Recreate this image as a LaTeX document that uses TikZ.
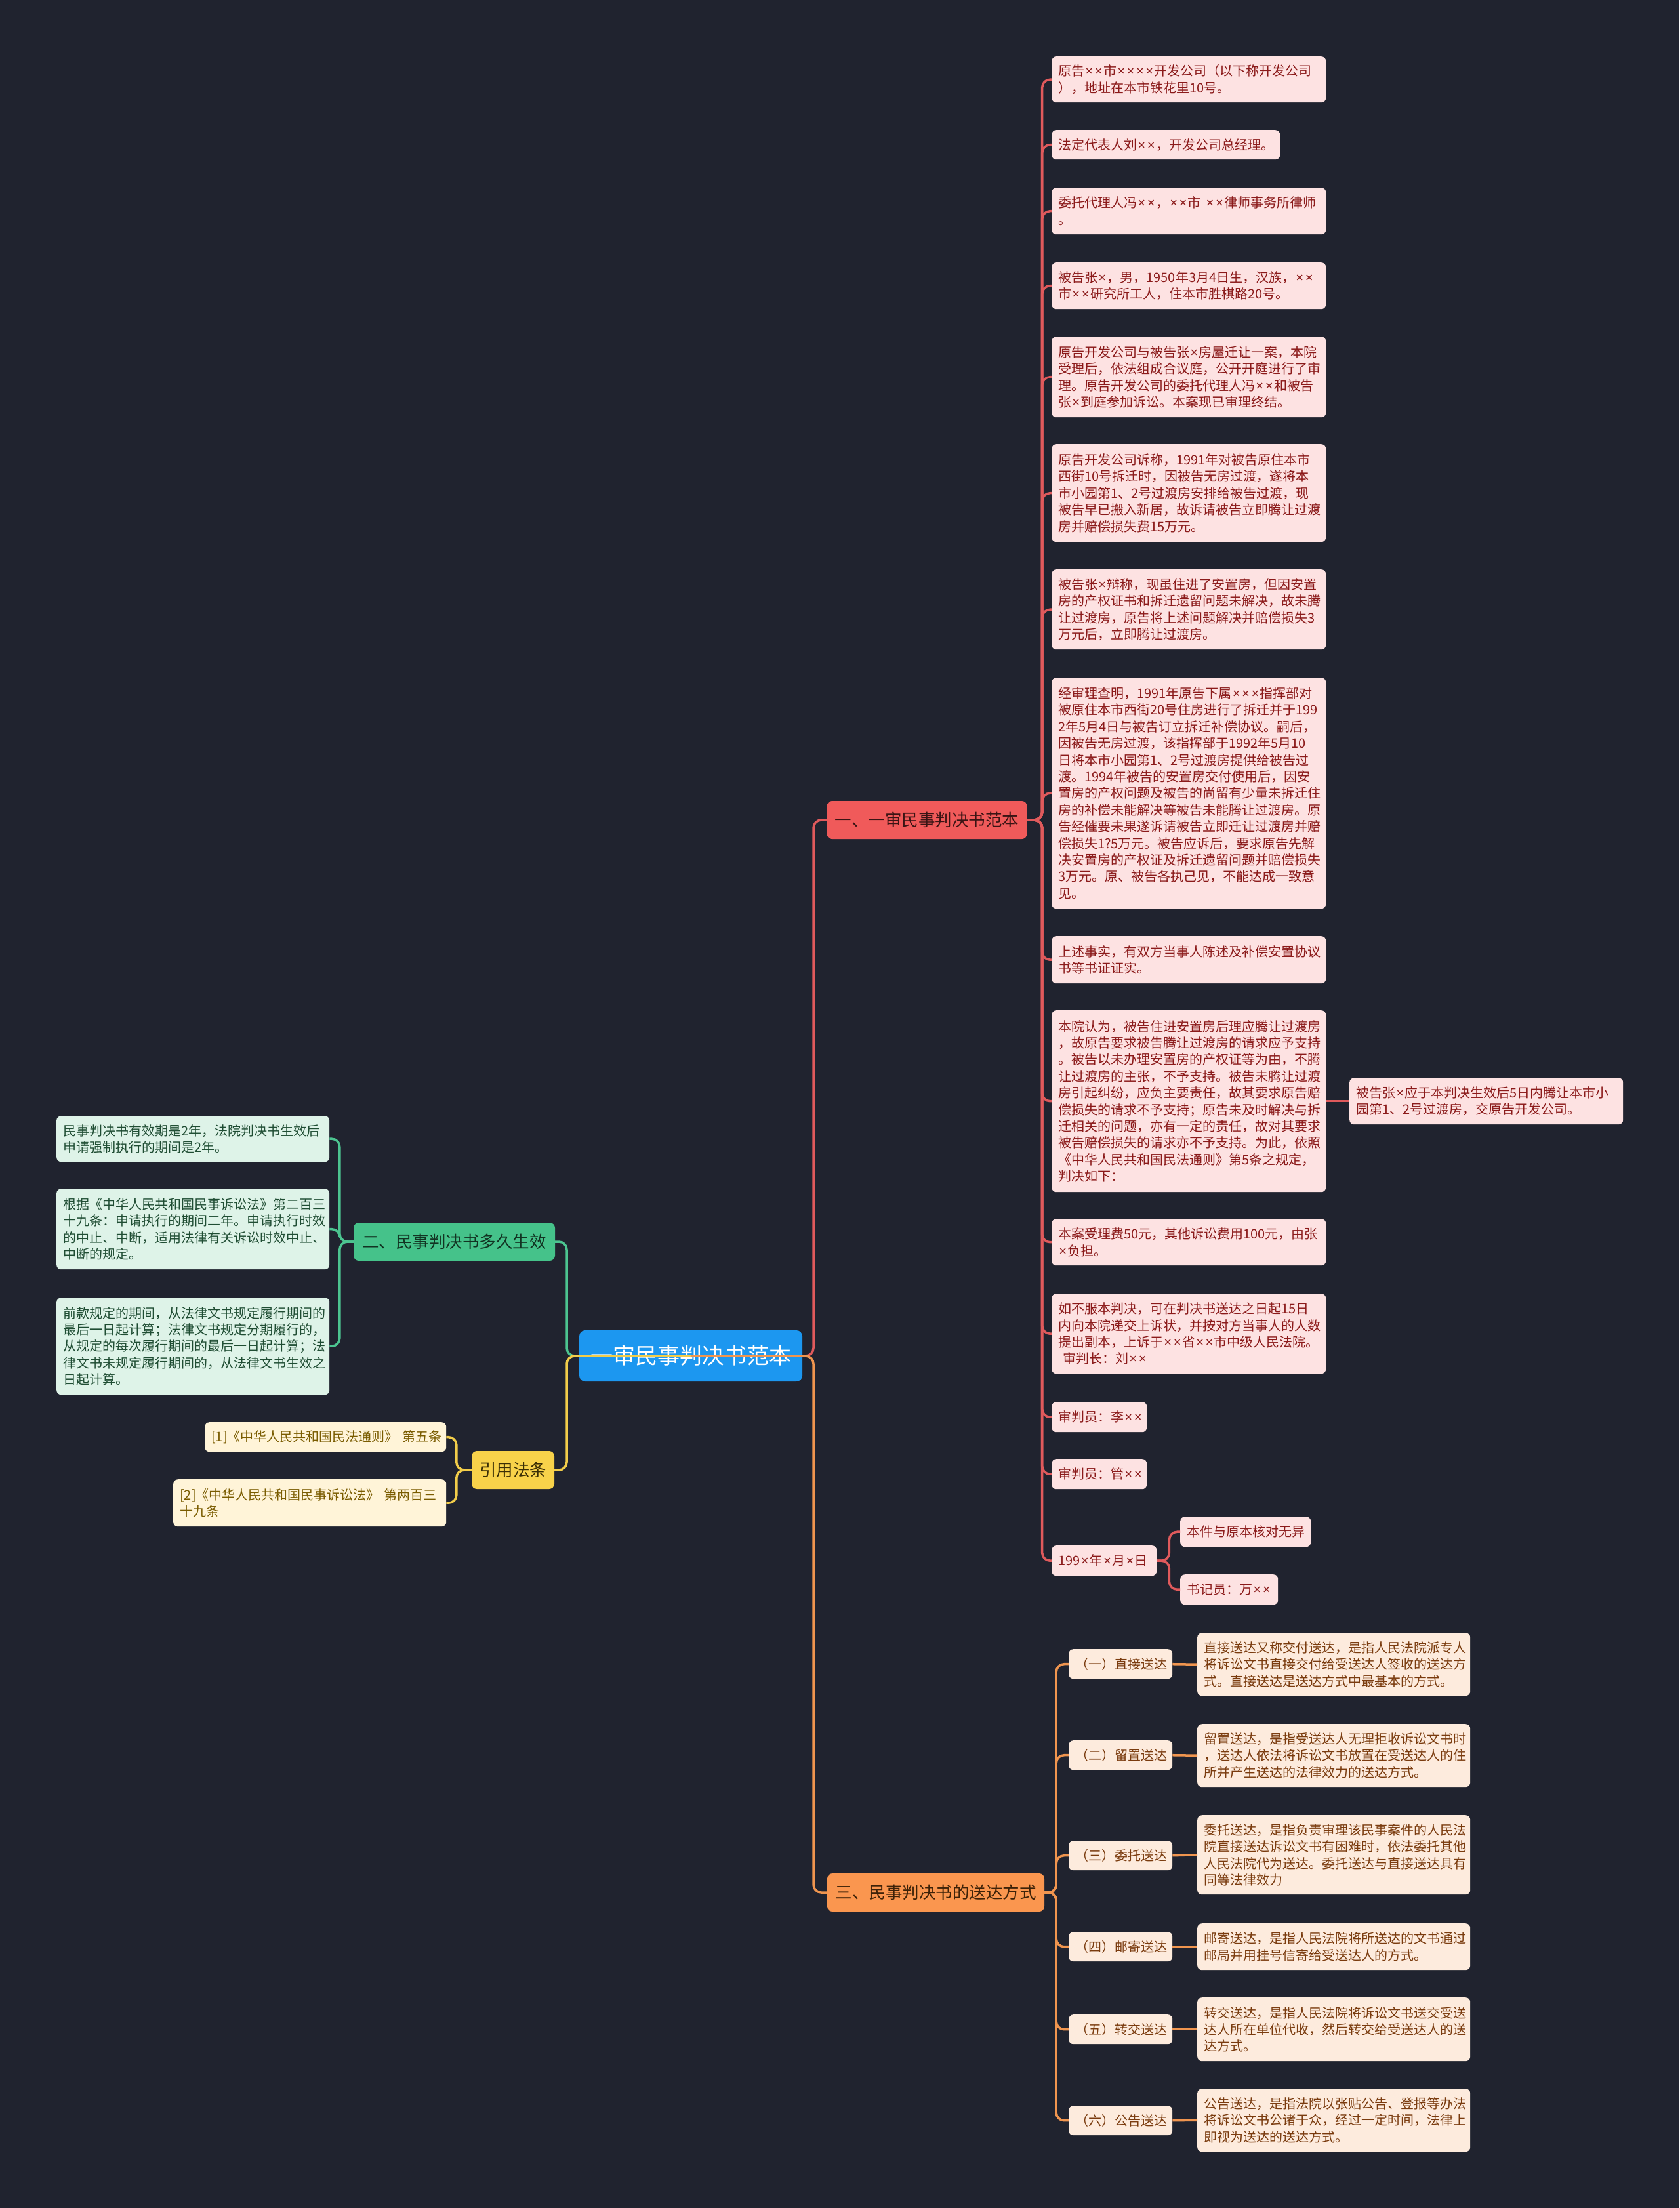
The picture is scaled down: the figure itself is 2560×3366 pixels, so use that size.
\documentclass[tikz,border=0pt]{standalone}
\usepackage{fontspec}
\setmainfont{Noto Sans CJK SC}
\newfontfamily\latinx{Noto Sans}
\newcommand\tms{\makebox[0.72em]{\latinx ×}}
\definecolor{bgc}{HTML}{20232F}
\definecolor{rootfill}{HTML}{1C97F0}
\definecolor{redfill}{HTML}{F05A5A}
\definecolor{redline}{HTML}{E05A5C}
\definecolor{redtext}{HTML}{3A1414}
\definecolor{pinkfill}{HTML}{FDE2E2}
\definecolor{pinktext}{HTML}{8B1A1A}
\definecolor{orangefill}{HTML}{FA964F}
\definecolor{orangeline}{HTML}{F0954F}
\definecolor{orangetext}{HTML}{3D2208}
\definecolor{peachfill}{HTML}{FDEBDD}
\definecolor{peachtext}{HTML}{7A3B0E}
\definecolor{greenfill}{HTML}{45C28A}
\definecolor{greenline}{HTML}{4CC490}
\definecolor{greentext}{HTML}{123322}
\definecolor{mintfill}{HTML}{DEF3E8}
\definecolor{minttext}{HTML}{1F4D33}
\definecolor{yellowfill}{HTML}{F8D24A}
\definecolor{yellowline}{HTML}{F2CD4A}
\definecolor{yellowtext}{HTML}{3A2E05}
\definecolor{creamfill}{HTML}{FFF4D8}
\definecolor{creamtext}{HTML}{7A5C00}
\tikzset{
  leaf/.style={rounded corners=7pt, inner xsep=10pt, inner ysep=0pt, align=left, anchor=north west,
    font=\fontsize{20pt}{25.4pt}\selectfont},
  pinkleaf/.style={leaf, fill=pinkfill, text=pinktext},
  peachleaf/.style={leaf, fill=peachfill, text=peachtext},
  mintleaf/.style={leaf, fill=mintfill, text=minttext},
  creamleaf/.style={leaf, fill=creamfill, text=creamtext},
  branchbox/.style={rounded corners=8pt, inner sep=0pt, anchor=center, font=\fontsize{25.5pt}{30pt}\selectfont},
  rootbox/.style={rounded corners=9pt, inner sep=0pt, anchor=center, fill=rootfill, text=white,
    font=\fontsize{34pt}{40pt}\selectfont},
  conn/.style={line width=3.5pt, rounded corners=12pt},
}
\begin{document}
\begin{tikzpicture}[x=1pt,y=-1pt]
\fill[bgc] (0,0) rectangle (2560,3366);
\useasboundingbox (0,0) rectangle (2560,3366);

% root and branches
\node[rootbox, minimum width=340pt, minimum height=78pt] (root) at (1053,2067) {一审民事判决书范本};
\node[branchbox, fill=redfill, text=redtext, minimum width=305pt, minimum height=58pt] (b1) at (1413,1250) {一、一审民事判决书范本};
\node[branchbox, fill=orangefill, text=orangetext, minimum width=331pt, minimum height=58pt] (b3) at (1426.5,2885) {三、民事判决书的送达方式};
\node[branchbox, fill=greenfill, text=greentext, minimum width=307pt, minimum height=58pt] (b2) at (692.5,1893) {二、民事判决书多久生效};
\node[branchbox, fill=yellowfill, text=yellowtext, minimum width=126pt, minimum height=58pt] (yb) at (782,2241) {引用法条};

% branch 1 leaves
\node[pinkleaf, text width=398pt, minimum height=70pt] (L1) at (1603,86) {原告\tms\tms{}市\tms\tms\tms\tms{}开发公司（以下称开发公司\\），地址在本市铁花里10号。};
\node[pinkleaf, text width=328pt, minimum height=45pt] (L2) at (1603,198) {法定代表人刘\tms\tms，开发公司总经理。};
\node[pinkleaf, text width=398pt, minimum height=71pt] (L3) at (1603,286) {委托代理人冯\tms\tms，\tms\tms{}市~\tms\tms{}律师事务所律师\\。};
\node[pinkleaf, text width=398pt, minimum height=71pt] (L4) at (1603,400) {被告张\tms，男，1950年3月4日生，汉族，\tms\tms\\市\tms\tms{}研究所工人，住本市胜棋路20号。};
\node[pinkleaf, text width=398pt, minimum height=123pt] (L5) at (1603,513) {原告开发公司与被告张\tms{}房屋迁让一案，本院\\受理后，依法组成合议庭，公开开庭进行了审\\理。原告开发公司的委托代理人冯\tms\tms{}和被告\\张\tms{}到庭参加诉讼。本案现已审理终结。};
\node[pinkleaf, text width=398pt, minimum height=149pt] (L6) at (1603,677) {原告开发公司诉称，1991年对被告原住本市\\西街10号拆迁时，因被告无房过渡，遂将本\\市小园第1、2号过渡房安排给被告过渡，现\\被告早已搬入新居，故诉请被告立即腾让过渡\\房并赔偿损失费15万元。};
\node[pinkleaf, text width=398pt, minimum height=122pt] (L7) at (1603,868) {被告张\tms{}辩称，现虽住进了安置房，但因安置\\房的产权证书和拆迁遗留问题未解决，故未腾\\让过渡房，原告将上述问题解决并赔偿损失3\\万元后，立即腾让过渡房。};
\node[pinkleaf, text width=398pt, minimum height=352pt] (L8) at (1603,1033) {经审理查明，1991年原告下属\tms\tms\tms{}指挥部对\\被原住本市西街20号住房进行了拆迁并于199\\2年5月4日与被告订立拆迁补偿协议。嗣后，\\因被告无房过渡，该指挥部于1992年5月10\\日将本市小园第1、2号过渡房提供给被告过\\渡。1994年被告的安置房交付使用后，因安\\置房的产权问题及被告的尚留有少量未拆迁住\\房的补偿未能解决等被告未能腾让过渡房。原\\告经催要未果遂诉请被告立即迁让过渡房并赔\\偿损失1?5万元。被告应诉后，要求原告先解\\决安置房的产权证及拆迁遗留问题并赔偿损失\\3万元。原、被告各执己见，不能达成一致意\\见。};
\node[pinkleaf, text width=398pt, minimum height=72pt] (L9) at (1603,1427) {上述事实，有双方当事人陈述及补偿安置协议\\书等书证证实。};
\node[pinkleaf, text width=398pt, minimum height=277pt] (L10) at (1603,1540) {本院认为，被告住进安置房后理应腾让过渡房\\，故原告要求被告腾让过渡房的请求应予支持\\。被告以未办理安置房的产权证等为由，不腾\\让过渡房的主张，不予支持。被告未腾让过渡\\房引起纠纷，应负主要责任，故其要求原告赔\\偿损失的请求不予支持；原告未及时解决与拆\\迁相关的问题，亦有一定的责任，故对其要求\\被告赔偿损失的请求亦不予支持。为此，依照\\《中华人民共和国民法通则》第5条之规定，\\判决如下：};
\node[pinkleaf, text width=397pt, minimum height=71pt] (L10c) at (2057,1643) {被告张\tms{}应于本判决生效后5日内腾让本市小\\园第1、2号过渡房，交原告开发公司。};
\node[pinkleaf, text width=398pt, minimum height=71pt] (L11) at (1603,1858) {本案受理费50元，其他诉讼费用100元，由张\\\tms{}负担。};
\node[pinkleaf, text width=398pt, minimum height=122pt] (L12) at (1603,1972) {如不服本判决，可在判决书送达之日起15日\\内向本院递交上诉状，并按对方当事人的人数\\提出副本，上诉于\tms\tms{}省\tms\tms{}市中级人民法院。\\\hspace*{0.35em}审判长：刘\tms\tms};
\node[pinkleaf, text width=125pt, minimum height=46pt] (L13) at (1603,2137) {审判员：李\tms\tms};
\node[pinkleaf, text width=125pt, minimum height=46pt] (L14) at (1603,2224) {审判员：管\tms\tms};
\node[pinkleaf, text width=140pt, minimum height=46pt] (L15) at (1603,2356) {199\tms{}年\tms{}月\tms{}日};
\node[pinkleaf, text width=179pt, minimum height=46pt] (L15a) at (1799,2312) {本件与原本核对无异};
\node[pinkleaf, text width=129pt, minimum height=46pt] (L15b) at (1799,2400) {书记员：万\tms\tms};

% branch 2 leaves
\node[mintleaf, text width=396pt, minimum height=70pt] (G1) at (86,1701) {民事判决书有效期是2年，法院判决书生效后\\申请强制执行的期间是2年。};
\node[mintleaf, text width=396pt, minimum height=123pt] (G2) at (86,1812) {根据《中华人民共和国民事诉讼法》第二百三\\十九条：申请执行的期间二年。申请执行时效\\的中止、中断，适用法律有关诉讼时效中止、\\中断的规定。};
\node[mintleaf, text width=396pt, minimum height=148pt] (G3) at (86,1978) {前款规定的期间，从法律文书规定履行期间的\\最后一日起计算；法律文书规定分期履行的，\\从规定的每次履行期间的最后一日起计算；法\\律文书未规定履行期间的，从法律文书生效之\\日起计算。};

% cited law leaves
\node[creamleaf, text width=348pt, minimum height=45pt] (Y1) at (312,2168) {[1]《中华人民共和国民法通则》~第五条};
\node[creamleaf, text width=396pt, minimum height=72pt] (Y2) at (264,2255) {[2]《中华人民共和国民事诉讼法》~第两百三\\十九条};

% branch 3 leaves
\node[peachleaf, text width=138pt, minimum height=45pt] (S1) at (1629,2514) {（一）直接送达};
\node[peachleaf, text width=138pt, minimum height=45pt] (S2) at (1629,2653) {（二）留置送达};
\node[peachleaf, text width=138pt, minimum height=45pt] (S3) at (1629,2806) {（三）委托送达};
\node[peachleaf, text width=138pt, minimum height=45pt] (S4) at (1629,2945) {（四）邮寄送达};
\node[peachleaf, text width=138pt, minimum height=45pt] (S5) at (1629,3071) {（五）转交送达};
\node[peachleaf, text width=138pt, minimum height=45pt] (S6) at (1629,3210) {（六）公告送达};
\node[peachleaf, text width=396pt, minimum height=96pt] (D1) at (1825,2489) {直接送达又称交付送达，是指人民法院派专人\\将诉讼文书直接交付给受送达人签收的送达方\\式。直接送达是送达方式中最基本的方式。};
\node[peachleaf, text width=396pt, minimum height=96pt] (D2) at (1825,2628) {留置送达，是指受送达人无理拒收诉讼文书时\\，送达人依法将诉讼文书放置在受送达人的住\\所并产生送达的法律效力的送达方式。};
\node[peachleaf, text width=396pt, minimum height=121pt] (D3) at (1825,2767) {委托送达，是指负责审理该民事案件的人民法\\院直接送达诉讼文书有困难时，依法委托其他\\人民法院代为送达。委托送达与直接送达具有\\同等法律效力};
\node[peachleaf, text width=396pt, minimum height=71pt] (D4) at (1825,2932) {邮寄送达，是指人民法院将所送达的文书通过\\邮局并用挂号信寄给受送达人的方式。};
\node[peachleaf, text width=396pt, minimum height=97pt] (D5) at (1825,3045) {转交送达，是指人民法院将诉讼文书送交受送\\达人所在单位代收，然后转交给受送达人的送\\达方式。};
\node[peachleaf, text width=396pt, minimum height=96pt] (D6) at (1825,3184) {公告送达，是指法院以张贴公告、登报等办法\\将诉讼文书公诸于众，经过一定时间，法律上\\即视为送达的送达方式。};

% root connectors
\draw[conn, greenline] (root.center) -- ++(-189,0) |- (b2.east);
\draw[conn, yellowline] (root.center) -- ++(-189,0) |- (yb.east);
\draw[conn, redline] (root.center) -- ++(187,0) |- (b1.west);
\draw[conn, orangeline] (root.center) -- ++(187,0) |- (b3.west);

% branch 1 connectors
\foreach \n in {L1,L2,L3,L4,L5,L6,L7,L8,L9,L10,L11,L12,L13,L14,L15}
  \draw[conn, redline] (b1.east) -- ++(23,0) |- (\n.west);
\draw[conn, redline] (L10.east) -- (L10c.west);
\draw[conn, redline] (L15.east) -- ++(19,0) |- (L15a.west);
\draw[conn, redline] (L15.east) -- ++(19,0) |- (L15b.west);

% branch 2 connectors
\foreach \n in {G1,G2,G3}
  \draw[conn, greenline] (b2.west) -- ++(-21,0) |- (\n.east);

% cited law connectors
\foreach \n in {Y1,Y2}
  \draw[conn, yellowline] (yb.west) -- ++(-23,0) |- (\n.east);

% branch 3 connectors
\foreach \n in {S1,S2,S3,S4,S5,S6}
  \draw[conn, orangeline] (b3.east) -- ++(18,0) |- (\n.west);
\draw[conn, orangeline] (S1.east) -- (D1.west);
\draw[conn, orangeline] (S2.east) -- (D2.west);
\draw[conn, orangeline] (S3.east) -- (D3.west);
\draw[conn, orangeline] (S4.east) -- (D4.west);
\draw[conn, orangeline] (S5.east) -- (D5.west);
\draw[conn, orangeline] (S6.east) -- (D6.west);
\end{tikzpicture}
\end{document}
